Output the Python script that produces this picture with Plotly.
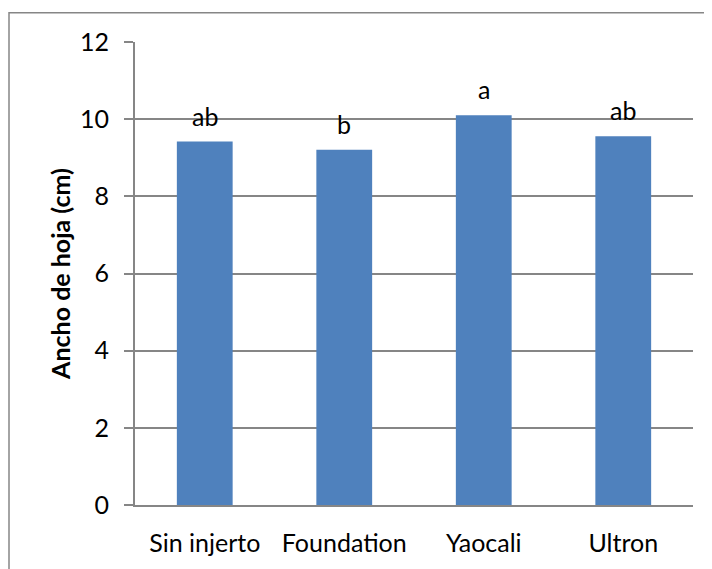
import plotly.graph_objects as go

categories = ["Sin injerto", "Foundation", "Yaocali", "Ultron"]
values = [9.42, 9.21, 10.10, 9.56]
letters = ["ab", "b", "a", "ab"]
y_ticks = [0, 2, 4, 6, 8, 10, 12]

# page body has an 8px margin, so the figure starts at (8, 8)
OFF = 8
W, H = 712 - OFF, 569 - OFF
L, R, T, B = 135 - OFF, 712 - 693, 42 - OFF, 569 - 511
pw, ph = W - L - R, H - T - B

FONT = "Lato, 'Open Sans', sans-serif"
GRID = "#868686"
FS = 25

fig = go.Figure()
fig.add_trace(go.Bar(
    x=categories, y=values,
    marker=dict(color="#4F81BD", line=dict(width=0)),
    width=0.4, showlegend=False, hoverinfo="skip",
))

for c, v, t in zip(categories, values, letters):
    fig.add_annotation(x=c, y=v, text=t, showarrow=False, yshift=26,
                       yanchor="middle", font=dict(family=FONT, size=FS, color="#000"))

# chart border (extends past right & bottom edges of the picture)
fig.add_shape(type="rect", xref="paper", yref="paper",
              x0=(9 - OFF - L) / pw, x1=(W + 20 - L) / pw,
              y0=-(B + 20) / ph, y1=(H - B - (12.3 - OFF)) / ph,
              line=dict(color=GRID, width=1.5), layer="below")

fig.update_layout(
    width=W, height=H,
    margin=dict(l=L, r=R, t=T, b=B, pad=0),
    paper_bgcolor="white", plot_bgcolor="white",
    font=dict(family=FONT, size=FS, color="#000"),
    bargap=0.6,
    xaxis=dict(
        showline=True, linecolor=GRID, linewidth=2,
        showgrid=False, ticks="", tickfont=dict(size=FS, color="#000"),
        ticklabelstandoff=15,
    ),
    yaxis=dict(
        range=[0, 12], tickvals=y_ticks, ticktext=[str(v) for v in y_ticks],
        showgrid=True, gridcolor=GRID, gridwidth=2,
        showline=True, linecolor=GRID, linewidth=2,
        ticks="outside", ticklen=9, tickcolor=GRID, tickwidth=2,
        tickfont=dict(size=FS, color="#000"), ticklabelstandoff=10,
        zeroline=False,
        title=dict(text="<b>Ancho de hoja (cm)</b>", font=dict(size=25, color="#000"), standoff=2),
    ),
)

fig.write_html("out.html")
